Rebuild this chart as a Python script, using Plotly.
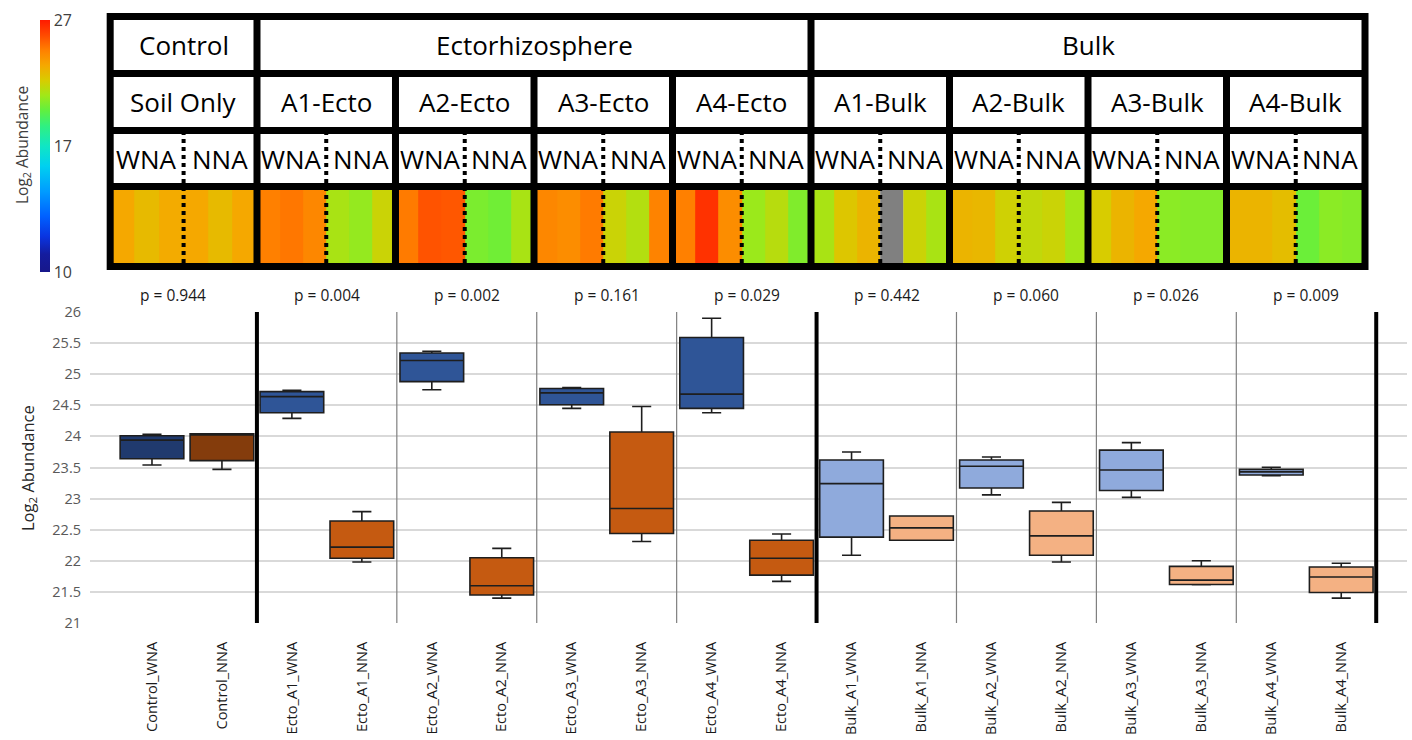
import plotly.graph_objects as go

# ---------------- data ----------------
categories = ["Control_WNA", "Control_NNA",
              "Ecto_A1_WNA", "Ecto_A1_NNA", "Ecto_A2_WNA", "Ecto_A2_NNA",
              "Ecto_A3_WNA", "Ecto_A3_NNA", "Ecto_A4_WNA", "Ecto_A4_NNA",
              "Bulk_A1_WNA", "Bulk_A1_NNA", "Bulk_A2_WNA", "Bulk_A2_NNA",
              "Bulk_A3_WNA", "Bulk_A3_NNA", "Bulk_A4_WNA", "Bulk_A4_NNA"]
lower_whisker = [23.54, 23.47, 24.29, 21.98, 24.75, 21.40, 24.45, 22.31, 24.38, 21.67,
                 22.09, 22.33, 23.06, 21.98, 23.02, 21.615, 23.37, 21.40]
q1 = [23.64, 23.61, 24.38, 22.04, 24.88, 21.45, 24.51, 22.44, 24.45, 21.77,
      22.38, 22.33, 23.17, 22.09, 23.13, 21.62, 23.38, 21.49]
median = [23.94, 24.03, 24.64, 22.22, 25.22, 21.60, 24.70, 22.84, 24.68, 22.04,
          23.24, 22.53, 23.52, 22.40, 23.46, 21.69, 23.43, 21.74]
q3 = [24.01, 24.04, 24.72, 22.64, 25.34, 22.05, 24.77, 24.07, 25.59, 22.33,
      23.62, 22.72, 23.62, 22.80, 23.78, 21.91, 23.47, 21.90]
upper_whisker = [24.035, 24.04, 24.74, 22.79, 25.37, 22.20, 24.785, 24.48, 25.90, 22.43,
                 23.75, 22.72, 23.67, 22.94, 23.90, 22.00, 23.505, 21.96]

top_groups = ["Control", "Ectorhizosphere", "Bulk"]
sub_groups = ["Soil Only", "A1-Ecto", "A2-Ecto", "A3-Ecto", "A4-Ecto",
              "A1-Bulk", "A2-Bulk", "A3-Bulk", "A4-Bulk"]
sub_group_parent = [0, 1, 1, 1, 1, 2, 2, 2, 2]
half_labels = ["WNA", "NNA"]
p_values = ["0.944", "0.004", "0.002", "0.161", "0.029", "0.442", "0.060", "0.026", "0.009"]

# heatmap replicates per sub group: WNA x3, NNA x3 (log2 abundance), None = missing
heat_values = [
    [23.4, 22.8, 23.3, 23.4, 22.8, 23.4],
    [24.6, 24.8, 24.4, 21.2, 20.8, 21.9],
    [24.7, 25.6, 25.5, 20.3, 20.1, 21.2],
    [24.4, 24.2, 24.7, 21.9, 21.4, 24.5],
    [24.6, 26.4, 24.2, 20.9, 21.5, 20.4],
    [21.2, 22.4, 23.0, None, 21.9, 21.2],
    [23.0, 22.9, 22.0, 21.7, 21.9, 21.1],
    [22.2, 23.0, 23.4, 20.6, 20.5, 20.5],
    [23.0, 23.0, 22.7, 20.0, 20.6, 20.5],
]
color_ticks = [10, 17, 27]

# ---------------- helpers ----------------
W, H = 1412, 740
def py(px):  # pixel from top -> paper fraction
    return 1 - px / H

def cscale(v):  # three-point colour scale: min 10, midpoint 17, max 27
    lo, mid, hi = color_ticks
    if v <= mid:
        return 0.5 * (v - lo) / (mid - lo)
    return 0.5 + 0.5 * (v - mid) / (hi - mid)

colorscale = [
    [0.00, "#17178A"], [0.07, "#141C9E"], [0.14, "#0A34E0"], [0.22, "#0060FF"],
    [0.32, "#009CFF"], [0.42, "#00D0F0"], [0.50, "#10E6C4"], [0.58, "#30F080"],
    [0.64, "#60F040"], [0.70, "#A0E818"], [0.76, "#D8CC00"], [0.82, "#F5A800"],
    [0.88, "#FF8000"], [0.94, "#FF4A00"], [1.00, "#FF1A00"],
]

fill_map = {("Control", "WNA"): "#203A6E", ("Control", "NNA"): "#843C0C",
            ("Ecto", "WNA"): "#2F5597", ("Ecto", "NNA"): "#C55A11",
            ("Bulk", "WNA"): "#8FAADC", ("Bulk", "NNA"): "#F4B183"}

fig = go.Figure()

# ---------------- box plot ----------------
for i, cat in enumerate(categories):
    parts = cat.split("_")
    fill = fill_map[(parts[0], parts[-1])]
    fig.add_trace(go.Box(
        x=[i], q1=[q1[i]], median=[median[i]], q3=[q3[i]],
        lowerfence=[lower_whisker[i]], upperfence=[upper_whisker[i]],
        fillcolor=fill, line=dict(color="#1E1E1E", width=1.6),
        width=0.91, whiskerwidth=0.3, boxpoints=False, showlegend=False,
        hoverinfo="skip", xaxis="x", yaxis="y"))

n_groups = len(sub_groups)
x_left = -0.886
table_left = -0.62
shapes = []
for g in range(n_groups):
    b = 2 * g + 1.5
    if g == n_groups - 1 or sub_group_parent[g] != sub_group_parent[g + 1]:
        style = dict(color="black", width=4)
    else:
        style = dict(color="#7F7F7F", width=1.2)
    shapes.append(dict(type="line", xref="x", yref="y", x0=b, x1=b, y0=21, y1=26, line=style))

annotations = []
for g in range(n_groups):
    left = x_left if g == 0 else 2 * g - 0.5
    cx = (left + 2 * g + 1.5) / 2
    annotations.append(dict(x=cx, y=py(295), xref="x", yref="paper", yanchor="middle",
                            text="p = " + p_values[g], showarrow=False,
                            font=dict(size=15.5, color="#1A1A1A")))

# ---------------- heatmap table ----------------
x_edges = []
z_row, z_missing = [], []
for g in range(n_groups):
    L = table_left if g == 0 else 2 * g - 0.5
    R = 2 * g + 1.5
    for k in range(6):
        x_edges.append(L + (R - L) * k / 6)
        v = heat_values[g][k]
        z_row.append(cscale(v) if v is not None else None)
        z_missing.append(1 if v is None else None)
x_edges.append(2 * (n_groups - 1) + 1.5)

y_bot, y_heat, y_r3, y_r2, y_top = 3.5, 83.5, 139.5, 196.5, 253.5

fig.add_trace(go.Heatmap(
    x=x_edges, y=[y_bot, y_heat], z=[z_row], zmin=0, zmax=1, colorscale=colorscale,
    xaxis="x2", yaxis="y2", hoverinfo="skip",
    colorbar=dict(x=40 / W, xanchor="left", xref="paper", xpad=0, ypad=0, thickness=10,
                  len=252 / H, lenmode="fraction", y=py(20), yanchor="top",
                  tickvals=[cscale(v) for v in color_ticks],
                  ticktext=[str(v) for v in color_ticks], ticks="",
                  outlinewidth=0, tickfont=dict(size=16, color="#404040"))))
fig.add_trace(go.Heatmap(
    x=x_edges, y=[y_bot, y_heat], z=[z_missing], zmin=0, zmax=1,
    colorscale=[[0, "#808080"], [1, "#808080"]], showscale=False,
    xaxis="x2", yaxis="y2", hoverinfo="skip"))

right_edge = x_edges[-1]
bl = dict(color="black", width=7)
shapes.append(dict(type="rect", xref="x2", yref="y2", x0=table_left, x1=right_edge,
                   y0=y_bot, y1=y_top, line=bl))
for yy in (y_heat, y_r3, y_r2):
    shapes.append(dict(type="line", xref="x2", yref="y2", x0=table_left, x1=right_edge,
                       y0=yy, y1=yy, line=bl))
for g in range(n_groups - 1):
    b = 2 * g + 1.5
    top = y_top if sub_group_parent[g] != sub_group_parent[g + 1] else y_r2
    shapes.append(dict(type="line", xref="x2", yref="y2", x0=b, x1=b, y0=y_bot, y1=top, line=bl))

hdr_font = dict(size=26, color="black")
for g in range(n_groups):
    L = table_left if g == 0 else 2 * g - 0.5
    R = 2 * g + 1.5
    mid = (L + R) / 2
    shapes.append(dict(type="line", xref="x2", yref="y2", x0=mid, x1=mid, y0=y_bot + 3.5,
                       y1=y_r3 - 3.5, line=dict(color="black", width=4, dash="4px,4px")))
    annotations.append(dict(x=mid, y=(y_r3 + y_r2) / 2, xref="x2", yref="y2", yanchor="middle",
                            text=sub_groups[g], showarrow=False, font=hdr_font))
    for h in range(2):
        hx = (L + mid) / 2 if h == 0 else (mid + R) / 2
        annotations.append(dict(x=hx, y=(y_heat + y_r3) / 2, xref="x2", yref="y2", yanchor="middle",
                                text=half_labels[h], showarrow=False, font=hdr_font))

for t, name in enumerate(top_groups):
    members = [g for g in range(n_groups) if sub_group_parent[g] == t]
    L = table_left if members[0] == 0 else 2 * members[0] - 0.5
    R = 2 * members[-1] + 1.5
    annotations.append(dict(x=(L + R) / 2, y=(y_r2 + y_top) / 2, xref="x2", yref="y2", yanchor="middle",
                            text=name, showarrow=False, font=hdr_font))

# axis titles
annotations.append(dict(x=28 / W, y=py(468), xref="paper", yref="paper", xanchor="center",
                        yanchor="middle", text="Log<sub>2</sub> Abundance",
                        textangle=-90, showarrow=False, font=dict(size=16.5, color="#262626")))
annotations.append(dict(x=22 / W, y=py(145), xref="paper", yref="paper", xanchor="center",
                        yanchor="middle", text="Log<sub>2</sub> Abundance",
                        textangle=-90, showarrow=False, font=dict(size=15.5, color="#404040")))

fig.update_layout(
    width=W, height=H, margin=dict(l=0, r=0, t=0, b=0, autoexpand=False),
    paper_bgcolor="white", plot_bgcolor="white",
    font=dict(family="Open Sans, sans-serif"),
    xaxis=dict(domain=[90 / W, 1407 / W], range=[x_left, 17.94], anchor="y", automargin=False,
               tickvals=list(range(len(categories))), ticktext=categories, tickangle=-90,
               showgrid=False, zeroline=False, showline=False, ticks="",
               ticklabelstandoff=15, tickfont=dict(size=14.5, color="#1A1A1A")),
    yaxis=dict(domain=[py(623), py(312)], range=[21, 26], dtick=0.5, anchor="x", automargin=False,
               gridcolor="#D9D9D9", gridwidth=1.5, zeroline=False, showline=False,
               ticklabelstandoff=8, tickfont=dict(size=14.5, color="#595959")),
    xaxis2=dict(domain=[100 / W, 1372 / W], range=[-0.767, 17.601], anchor="y2",
                visible=False, automargin=False),
    yaxis2=dict(domain=[py(270), py(13)], range=[0, 257], anchor="x2",
                visible=False, automargin=False),
    shapes=shapes, annotations=annotations,
)

fig.write_html("out.html")
